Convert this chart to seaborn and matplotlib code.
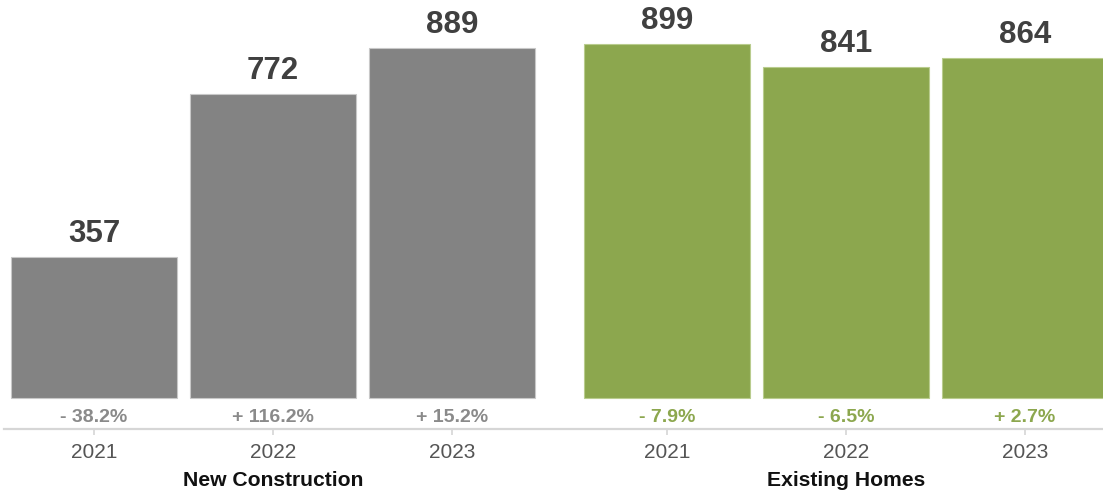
import matplotlib
matplotlib.use("Agg")
import matplotlib.pyplot as plt
import seaborn as sns
import pandas as pd

# Home sales by segment and year
groups = ["New Construction", "Existing Homes"]
years = ["2021", "2022", "2023"]
new_construction = [357, 772, 889]
existing_homes = [899, 841, 864]
new_change = ["- 38.2%", "+ 116.2%", "+ 15.2%"]
existing_change = ["- 7.9%", "- 6.5%", "+ 2.7%"]

gray = "#838383"
green = "#8ca74e"

# bar slots: three per group, with a wider gap between the groups
slots = [0, 1, 2, 3.2, 4.2, 5.2]

df = pd.DataFrame({
    "pos": slots,
    "value": new_construction + existing_homes,
    "group": [groups[0]] * 3 + [groups[1]] * 3,
    "year": years * 2,
    "change": new_change + existing_change,
})

sns.set_theme(style="white")
plt.rcParams["font.family"] = ["Liberation Sans", "DejaVu Sans"]

W, H = 1103, 496
fig = plt.figure(figsize=(W / 100, H / 100), dpi=100)
ax = fig.add_axes([4 / W, (H - 429) / H, 1 - 4 / W, 429 / H])

sns.barplot(data=df, x="pos", y="value", hue="group",
            palette={groups[0]: gray, groups[1]: green},
            native_scale=True, dodge=False, width=0.927, saturation=1,
            legend=False, ax=ax, linewidth=0.8)

for patch, col in zip(ax.patches, [gray] * 3 + [green] * 3):
    patch.set_edgecolor("#c8c8c8" if col == gray else "#b9cc8e")

ax.set_xlim(-0.503, 5.637)
ax.set_ylim(-78.7, 1010.7)
ax.set_xlabel("")
ax.set_ylabel("")
ax.set_yticks([])
ax.set_xticks(slots)
ax.set_xticklabels(df["year"], fontsize=15, color="#555555")
ax.tick_params(axis="x", direction="out", length=4, width=1.2,
               color="#d6d6d6", pad=6, bottom=True)
for side in ["top", "left", "right"]:
    ax.spines[side].set_visible(False)
ax.spines["bottom"].set_color("#d6d6d6")
ax.spines["bottom"].set_linewidth(1.6)
ax.grid(False)

for _, r in df.iterrows():
    ax.annotate(f"{r['value']:,}", (r["pos"], r["value"]),
                xytext=(0, 8), textcoords="offset pixels",
                ha="center", va="bottom", fontsize=22.5, fontweight="bold",
                color="#404040")
    ax.annotate(r["change"], (r["pos"], H - 418),
                xycoords=("data", "figure pixels"),
                ha="center", va="center", fontsize=14, fontweight="bold",
                color="#8a8a8a" if r["group"] == groups[0] else green)

for g, centre in zip(groups, [slots[1], slots[4]]):
    ax.annotate(g, (centre, H - 481), xycoords=("data", "figure pixels"),
                ha="center", va="center", fontsize=15.2, fontweight="bold",
                color="#111111")

fig.savefig("out.png", dpi=100)
